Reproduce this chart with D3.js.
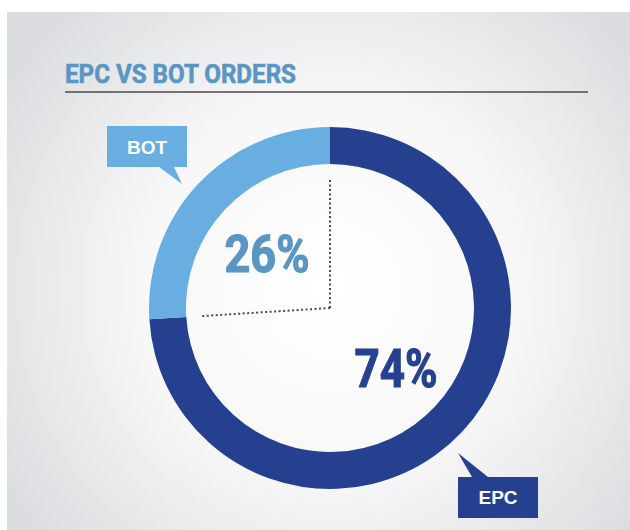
<!DOCTYPE html>
<html>
<head>
<meta charset="utf-8">
<script src="https://cdn.jsdelivr.net/npm/d3@7"></script>
<style>
  body { margin: 0; background: #fff; }
  text { font-family: "Liberation Sans Narrow", Roboto, "Liberation Sans", sans-serif; font-weight: bold; }
</style>
</head>
<body>
<div id="chart"></div>
<script>
//--------------------------------------------------------------------------------
var categories = ["EPC", "BOT"];
var values = [74, 26];
var valueLabels = ["74%", "26%"];
var colors = ["#24408e", "#69aee0"];
var titleText = "EPC VS BOT ORDERS";
//--------------------------------------------------------------------------------
var width = 630, height = 530;
var cx = 330, cy = 308;
var rOuter = 181, rInner = 144;

var svg = d3.select("#chart").append("svg")
    .attr("width", width)
    .attr("height", height);

var defs = svg.append("defs");
var grad = defs.append("radialGradient")
    .attr("id", "bg")
    .attr("gradientUnits", "userSpaceOnUse")
    .attr("cx", cx).attr("cy", cy - 20).attr("r", 380);
grad.append("stop").attr("offset", "0%").attr("stop-color", "#ffffff");
grad.append("stop").attr("offset", "50%").attr("stop-color", "#f7f7f8");
grad.append("stop").attr("offset", "100%").attr("stop-color", "#dcdde0");

  // panel
svg.append("rect")
   .attr("x", 7).attr("y", 12)
   .attr("width", width - 7).attr("height", height - 12)
   .attr("fill", "url(#bg)");

  // title + rule
svg.append("text")
   .attr("x", 65).attr("y", 83)
   .attr("font-size", 25)
   .attr("fill", "#5a96c3")
   .attr("stroke", "#5a96c3")
   .attr("stroke-width", 0.6)
   .attr("textLength", 231)
   .attr("lengthAdjust", "spacingAndGlyphs")
   .text(titleText);

svg.append("line")
   .attr("x1", 65).attr("x2", 588)
   .attr("y1", 92).attr("y2", 92)
   .attr("stroke", "#4a4a4a")
   .attr("stroke-width", 1.5);

//--------------------------------------------------------------------------------
var pie = d3.pie().sort(null).value(function(d){ return d; });
var arcs = pie(values);

var arc = d3.arc().innerRadius(rInner).outerRadius(rOuter);

var g = svg.append("g").attr("transform", "translate(" + cx + "," + cy + ")");

g.selectAll("path.slice")
   .data(arcs)
   .enter()
   .append("path")
   .attr("class", "slice")
   .attr("d", arc)
   .attr("fill", function(d, i){ return colors[i]; });

  // dotted radial lines at the slice boundaries
var radial = d3.lineRadial();
arcs.forEach(function(a){
   g.append("path")
    .attr("d", radial([[a.startAngle, 0], [a.startAngle, 130]]))
    .attr("fill", "none")
    .attr("stroke", "#4a4a4a")
    .attr("stroke-width", 2)
    .attr("stroke-dasharray", "2,2.5");
});

  // big percentage labels (offsets from center)
var pctLayout = [
   {dx: 66, dy: 387 - cy, size: 54, len: 83, fill: "#26418f"},
   {dx: -63, dy: 272 - cy, size: 52, len: 85, fill: "#5a96c3"}
];
g.selectAll("text.pct")
   .data(arcs)
   .enter()
   .append("text")
   .attr("class", "pct")
   .attr("x", function(d, i){ return pctLayout[i].dx; })
   .attr("y", function(d, i){ return pctLayout[i].dy; })
   .attr("text-anchor", "middle")
   .attr("font-size", function(d, i){ return pctLayout[i].size; })
   .attr("textLength", function(d, i){ return pctLayout[i].len; })
   .attr("lengthAdjust", "spacingAndGlyphs")
   .attr("fill", function(d, i){ return pctLayout[i].fill; })
   .attr("stroke", function(d, i){ return pctLayout[i].fill; })
   .attr("stroke-width", 1.2)
   .text(function(d, i){ return valueLabels[i]; });

//--------------------------------------------------------------------------------
  // callout boxes: box rect and tail polygon
var callouts = [
   {box: [458, 477, 80, 41], tail: [[472, 477], [488, 477], [458, 453]], textY: 504},
   {box: [107, 126, 80, 41], tail: [[159, 167], [174, 167], [182, 184]], textY: 154}
];

callouts.forEach(function(c, i){
   svg.append("polygon")
      .attr("points", c.tail.map(function(p){ return p.join(","); }).join(" "))
      .attr("fill", colors[i]);
   svg.append("rect")
      .attr("x", c.box[0]).attr("y", c.box[1])
      .attr("width", c.box[2]).attr("height", c.box[3])
      .attr("fill", colors[i]);
   svg.append("text")
      .attr("x", c.box[0] + c.box[2] / 2)
      .attr("y", c.textY)
      .attr("text-anchor", "middle")
      .attr("font-size", 19)
      .attr("fill", "#fff")
      .style("font-family", "'Liberation Sans', Arial, sans-serif")
      .text(categories[i]);
});
</script>
</body>
</html>
